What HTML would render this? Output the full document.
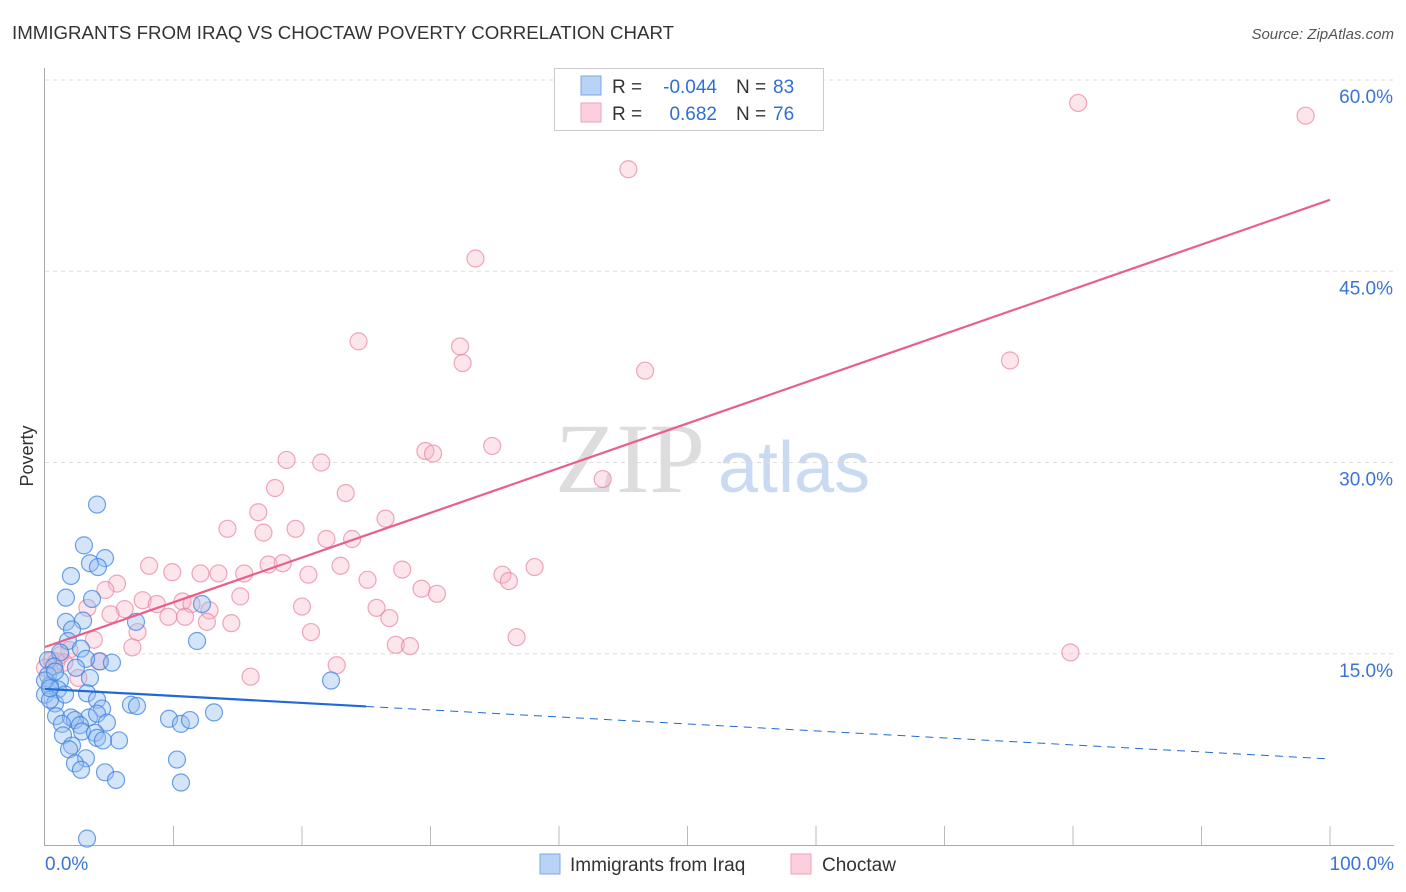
<!DOCTYPE html>
<html><head><meta charset="utf-8">
<style>
body{margin:0;background:#fff;font-family:"Liberation Sans",sans-serif;}
#wrap{position:relative;width:1406px;height:892px;overflow:hidden;}
</style></head>
<body>
<div id="wrap">
<svg id="svg" width="1406" height="892" xmlns="http://www.w3.org/2000/svg">
<text x="12" y="39" font-size="18.7" fill="#333">IMMIGRANTS FROM IRAQ VS CHOCTAW POVERTY CORRELATION CHART</text>
<text x="1394" y="39" font-size="15" fill="#555" font-style="italic" text-anchor="end">Source: ZipAtlas.com</text>
<text x="33" y="456" font-size="18" fill="#333" transform="rotate(-90 33 456)" text-anchor="middle">Poverty</text>
<text x="555" y="492" font-size="100" fill="#ddd" font-family="Liberation Serif,serif">ZIP</text>
<text x="718" y="492" font-size="72" fill="#c9daf2">atlas</text>
<g id="grid"></g><g id="pts"></g><g id="lines"></g>
<g>
<rect x="554.5" y="68.5" width="269" height="62" fill="#fff" stroke="#ccc"/>
<rect x="581" y="76" width="20" height="19" fill="#b8d3f5" stroke="#7aa8e6"/>
<rect x="581" y="103" width="20" height="19" fill="#fbd0dc" stroke="#f0a0b8"/>
<text x="612" y="93" font-size="19" fill="#333">R =</text>
<text x="717" y="93" font-size="19" fill="#2e6fd6" text-anchor="end">-0.044</text>
<text x="736" y="93" font-size="19" fill="#333">N =</text>
<text x="773" y="93" font-size="19" fill="#2e6fd6">83</text>
<text x="612" y="120" font-size="19" fill="#333">R =</text>
<text x="717" y="120" font-size="19" fill="#2e6fd6" text-anchor="end">0.682</text>
<text x="736" y="120" font-size="19" fill="#333">N =</text>
<text x="773" y="120" font-size="19" fill="#2e6fd6">76</text>
</g>
<g>
<rect x="540" y="854" width="20" height="20" fill="#b8d3f5" stroke="#7aa8e6"/>
<text x="570" y="871" font-size="19" fill="#333">Immigrants from Iraq</text>
<rect x="791" y="854" width="20" height="20" fill="#fbd0dc" stroke="#f0a0b8"/>
<text x="822" y="871" font-size="19" fill="#333">Choctaw</text>
</g>
</svg>
</div>
<script>
const xTicks=[0,10,20,30,40,50,60,70,80,90,100];
const yTicks=[15,30,45,60];
const yTickLabels=["15.0%","30.0%","45.0%","60.0%"];
const iraqX=[4.05,3.03,4.67,3.5,4.12,2.02,1.63,3.66,12.22,2.96,1.63,2.1,7.08,1.79,11.83,2.8,1.17,4.28,5.21,3.19,0.23,0.7,2.41,0.23,1.17,3.5,22.26,0.39,1.01,3.27,4.05,6.69,7.16,4.44,0,0.78,0.86,2.02,3.42,2.33,4.05,1.32,2.72,4.82,9.65,10.58,11.28,13.15,2.88,3.89,1.4,4.05,5.76,4.51,2.1,1.87,3.19,2.33,2.8,4.67,5.53,10.27,10.58,3.27,0.39,0,0.78,1.56,0.39];
const iraqY=[26.7,23.5,22.5,22.1,21.8,21.1,19.4,19.3,18.9,17.6,17.5,16.9,17.5,16.0,16.0,15.4,15.1,14.4,14.3,14.6,14.5,14.0,13.9,13.3,12.9,13.1,12.9,12.5,12.2,11.9,11.4,11.0,10.9,10.7,11.8,11.1,10.1,10.0,10.0,9.8,10.3,9.5,9.4,9.6,9.9,9.5,9.8,10.4,8.9,8.8,8.6,8.4,8.2,8.2,7.8,7.5,6.8,6.4,5.9,5.7,5.1,6.7,4.9,0.5,11.4,12.9,13.6,11.8,12.3];
const choX=[80.4,98.1,45.4,33.5,24.4,32.3,32.5,46.7,75.1,34.8,29.6,30.2,18.8,21.5,43.4,17.9,23.4,16.6,26.5,14.2,19.5,17.0,21.9,23.9,8.1,9.9,12.1,13.5,15.5,17.4,18.5,20.5,23.0,27.8,35.6,36.1,38.1,25.1,5.6,4.7,29.3,30.5,15.2,7.6,8.7,10.7,11.4,20.0,25.8,3.3,6.2,5.1,9.6,10.9,12.8,14.5,12.6,26.8,7.2,20.7,36.7,3.8,27.3,28.4,6.8,79.8,1.9,0.5,0.9,1.5,4.2,22.7,16.0,2.6,0,1.2];
const choY=[58.2,57.2,53.0,46.0,39.5,39.1,37.8,37.2,38.0,31.3,30.9,30.7,30.2,30.0,28.7,28.0,27.6,26.1,25.6,24.8,24.8,24.5,24.0,24.0,21.9,21.4,21.3,21.3,21.3,22.0,22.1,21.2,21.9,21.6,21.2,20.7,21.8,20.8,20.5,20.0,20.1,19.7,19.5,19.2,18.9,19.1,18.9,18.7,18.6,18.6,18.5,18.1,17.9,17.9,18.4,17.4,17.5,17.8,16.7,16.7,16.3,16.1,15.7,15.6,15.5,15.1,15.3,14.5,14.4,14.3,14.4,14.1,13.2,13.1,13.9,14.9];
const iraqTrend=[12.24,6.75];
const choTrend=[15.53,50.6];
const iraqSolidEnd=25;

const NS="http://www.w3.org/2000/svg";
function X(v){return 45+v*12.85;}
function Y(v){return 845-v*12.75;}
function mk(tag,attrs,parent){const e=document.createElementNS(NS,tag);for(const k in attrs)e.setAttribute(k,attrs[k]);parent.appendChild(e);return e;}
const grid=document.getElementById('grid'),pts=document.getElementById('pts'),lines=document.getElementById('lines');
yTicks.forEach((t,i)=>{
  const l=mk('line',{x1:45,x2:1394,y1:Y(t),y2:Y(t),stroke:'#ddd','stroke-dasharray':'4,4'},grid);
  
  
  const tx=mk('text',{x:1393,y:Y(t)+23,'font-size':19,fill:'#3a74d4','text-anchor':'end'},grid);
  tx.textContent=yTickLabels[i];
  
  
});
const ax=mk('line',{x1:44.5,x2:44.5,y1:68,y2:845,stroke:'#aaa'},grid);


const bx=mk('line',{x1:44,x2:1394,y1:845.5,y2:845.5,stroke:'#aaa'},grid);


xTicks.forEach(t=>{if(t>0){const tk=mk('line',{x1:X(t),x2:X(t),y1:826,y2:845,stroke:'#bbb'},grid);
  
  }});
const xl0=mk('text',{x:45,y:870,'font-size':19,fill:'#3a74d4'},grid);xl0.textContent='0.0%';


const xl1=mk('text',{x:1394,y:870,'font-size':19,fill:'#3a74d4','text-anchor':'end'},grid);xl1.textContent='100.0%';


choX.forEach((v,i)=>{const c=mk('circle',{cx:X(v),cy:Y(choY[i]),r:8.5,fill:'rgba(248,180,200,0.35)',stroke:'rgba(232,130,160,0.7)','stroke-width':1.2},pts);
  
  });
iraqX.forEach((v,i)=>{const c=mk('circle',{cx:X(v),cy:Y(iraqY[i]),r:8.5,fill:'rgba(150,190,240,0.4)',stroke:'rgba(60,130,225,0.75)','stroke-width':1.2},pts);
  
  });
function ty(tr,v){return tr[0]+(tr[1]-tr[0])*v/100;}
const pl=mk('line',{x1:X(0),y1:Y(choTrend[0]),x2:X(100),y2:Y(choTrend[1]),stroke:'#e8608a','stroke-width':2.2},lines);


const bl=mk('line',{x1:X(0),y1:Y(iraqTrend[0]),x2:X(iraqSolidEnd),y2:Y(ty(iraqTrend,iraqSolidEnd)),stroke:'#1f6ad8','stroke-width':2.2},lines);


const bd=mk('line',{x1:X(iraqSolidEnd),y1:Y(ty(iraqTrend,iraqSolidEnd)),x2:X(100),y2:Y(iraqTrend[1]),stroke:'#1f6ad8','stroke-width':1,'stroke-dasharray':'8,6'},lines);


</script>
</body></html>
